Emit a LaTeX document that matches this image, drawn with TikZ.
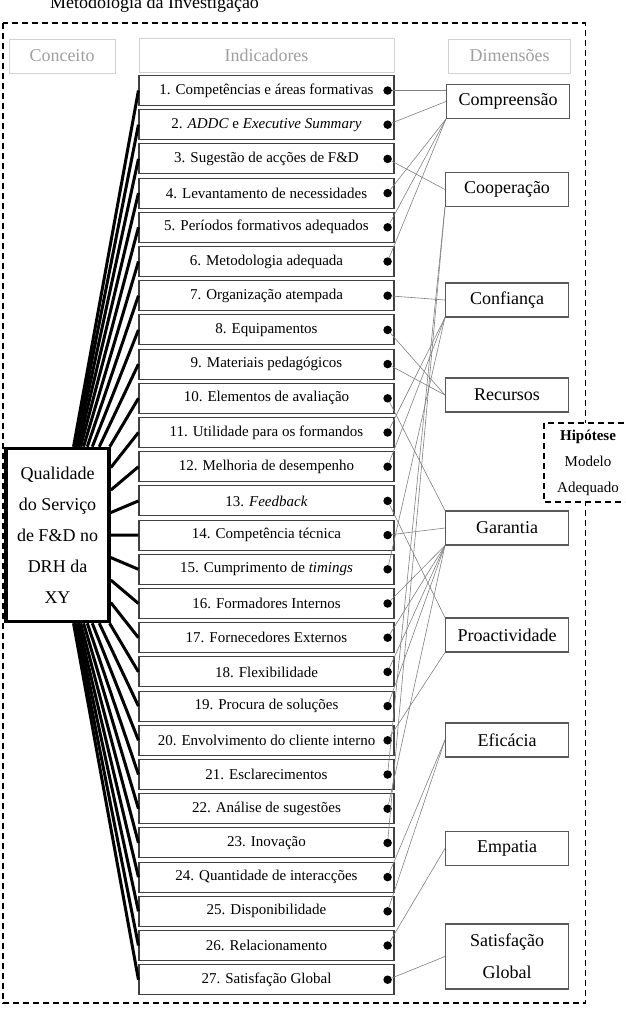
\documentclass[tikz,border=0pt]{standalone}
\usepackage{fontspec}
\setmainfont{Liberation Serif}
\usetikzlibrary{positioning}

\begin{document}
\begin{tikzpicture}[
            x=1pt, y=1pt,
            node distance=3.1pt,
            hdr/.style={draw=gray!35, text=gray!75, font=\fontsize{18}{20}\selectfont,
            minimum height=34pt, inner sep=0pt},
            ind/.style={draw=black!75, line width=1.1pt, minimum width=255pt,
            minimum height=30pt, inner sep=0pt, font=\fontsize{15}{17}\selectfont},
            blt/.style={circle, fill=black, minimum size=8.5pt, inner sep=0pt},
            dimbox/.style={draw=black!65, line width=1.1pt, minimum width=123pt,
            minimum height=34pt, inner sep=0pt, align=center, font=\fontsize{18}{20}\selectfont},
            spoke/.style={line width=3pt},
            link/.style={gray, line width=0.6pt},
            frame/.style={line width=1.6pt, dash pattern=on 6pt off 4pt}
        ]
            \useasboundingbox (0,0) rectangle (625,-1012);
            \clip (0,0) rectangle (625,-1012);
% title and frame
            \node[anchor=base, font=\fontsize{18}{20}\selectfont] (title) at (154.5,-8) {Metodologia da Investigação};
            \draw[frame] (3,-23) rectangle (585.5,-1003);
            \draw[frame, fill=white] (544,-423) rectangle (650,-502);
            \node[align=center, font=\fontsize{15}{26}\selectfont] (hyp) at (588,-462.5) {\textbf{Hipótese}\\Modelo\\Adequado};
% column heads
            \node[hdr, minimum width=106pt] (hconc) at (62,-56)    {Conceito};
            \node[hdr, minimum width=255pt] (hind)  at (266.5,-55.5) {Indicadores};
            \node[hdr, minimum width=122pt] (hdim)  at (509.5,-56)  {Dimensões};
% concept
            \node[draw, line width=3.5pt, minimum width=103pt, minimum height=173pt,
            inner sep=0pt, align=center, font=\fontsize{18}{31}\selectfont] (qual) at (57.5,-535)
            {Qualidade\\do Serviço\\de F\&D no\\DRH da\\XY};
% indicators
            \node[ind] (i1) at (266.5,-90.5) {1. Competências e áreas formativas};
            \node[ind, below=of i1]  (i2)  {2. \textit{ADDC} e \textit{Executive Summary}};
            \node[ind, below=of i2]  (i3)  {3. Sugestão de acções de F\&D};
            \node[ind, below=of i3]  (i4)  {4. Levantamento de necessidades};
            \node[ind, below=of i4]  (i5)  {5. Períodos formativos adequados};
            \node[ind, below=of i5]  (i6)  {6. Metodologia adequada};
            \node[ind, below=of i6]  (i7)  {7. Organização atempada};
            \node[ind, below=of i7]  (i8)  {8. Equipamentos};
            \node[ind, below=of i8]  (i9)  {9. Materiais pedagógicos};
            \node[ind, below=of i9]  (i10) {10. Elementos de avaliação};
            \node[ind, below=of i10] (i11) {11. Utilidade para os formandos};
            \node[ind, below=of i11] (i12) {12. Melhoria de desempenho};
            \node[ind, below=of i12] (i13) {13. \textit{Feedback}};
            \node[ind, below=of i13] (i14) {14. Competência técnica};
            \node[ind, below=of i14] (i15) {15. Cumprimento de \textit{timings}};
            \node[ind, below=of i15] (i16) {16. Formadores Internos};
            \node[ind, below=of i16] (i17) {17. Fornecedores Externos};
            \node[ind, below=of i17] (i18) {18. Flexibilidade};
            \node[ind, below=of i18] (i19) {19. Procura de soluções};
            \node[ind, below=of i19] (i20) {20. Envolvimento do cliente interno};
            \node[ind, below=of i20] (i21) {21. Esclarecimentos};
            \node[ind, below=of i21] (i22) {22. Análise de sugestões};
            \node[ind, below=of i22] (i23) {23. Inovação};
            \node[ind, below=of i23] (i24) {24. Quantidade de interacções};
            \node[ind, below=of i24] (i25) {25. Disponibilidade};
            \node[ind, below=of i25] (i26) {26. Relacionamento};
            \node[ind, below=of i26] (i27) {27. Satisfação Global};
% bullets on the right of each indicator
            \foreach \k in {1,...,27}
                \node[blt, left=2.5pt of i\k.east] (d\k) {};
% spokes from the concept
            \foreach \k in {1,...,27}
                \draw[spoke] (qual) -- (i\k.west);
% dimensions
            \node[dimbox] (comp) at (508,-101.5) {Compreensão};
            \node[dimbox] (coop) at (507,-189.5) {Cooperação};
            \node[dimbox] (conf) at (507,-300)   {Confiança};
            \node[dimbox] (recu) at (507,-395)   {Recursos};
            \node[dimbox] (gara) at (507,-528)   {Garantia};
            \node[dimbox] (proa) at (507,-635)   {Proactividade};
            \node[dimbox] (efic) at (507,-740)   {Eficácia};
            \node[dimbox] (empa) at (507,-848.5) {Empatia};
            \node[dimbox, minimum height=65pt, font=\fontsize{18}{32}\selectfont] (sati) at (507,-956.5) {Satisfação\\Global};
% Compreensão
            \draw[link] (d1) -- (d1 -| comp.west);
            \draw[link] (d2) -- (comp.west);
            \draw[link] (d4) -- (comp.south west);
            \draw[link] (d5) -- (comp.south west);
            \draw[link] (d6) -- (comp.south west);
% Cooperação
            \draw[link] (d3) -- (coop.west);
            \draw[link] (d21) -- (coop.south west);
            \draw[link] (d23) -- (coop.south west);
% Confiança
            \draw[link] (d7) -- (conf.west);
            \draw[link] (d11) -- (conf.south west);
            \draw[link] (d12) -- (conf.south west);
            \draw[link] (d15) -- (conf.south west);
% Recursos
            \draw[link] (d8) -- (recu.west);
            \draw[link] (d9) -- (recu.west);
% Garantia
            \draw[link] (d10) -- (gara.north west);
            \draw[link] (d14) -- (gara.west);
            \draw[link] (d16) -- (gara.south west);
            \draw[link] (d17) -- (gara.south west);
            \draw[link] (d18) -- (gara.south west);
            \draw[link] (d19) -- (gara.south west);
            \draw[link] (d22) -- (gara.south west);
% Proactividade
            \draw[link] (d13) -- (proa.north west);
            \draw[link] (d20) -- (proa.south west);
% Eficácia, Empatia, Satisfação
            \draw[link] (d24) -- (efic.west);
            \draw[link] (d25) -- (efic.west);
            \draw[link] (d26) -- (empa.west);
            \draw[link] (d27) -- (sati.west);
        \end{tikzpicture}
\end{document}
